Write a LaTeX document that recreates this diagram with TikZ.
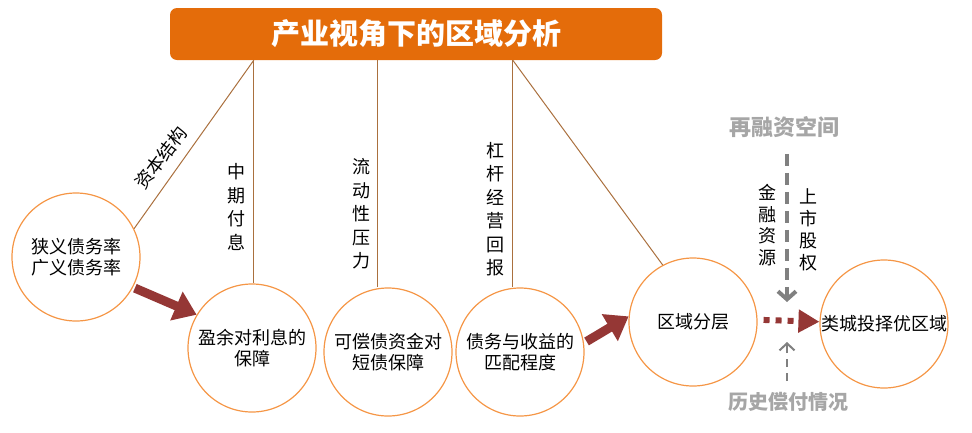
\documentclass[tikz,border=0pt]{standalone}
\usepackage{fontspec}
\newfontfamily\cjk{Noto Sans CJK SC}
\usetikzlibrary{arrows.meta}
\definecolor{barorange}{RGB}{228,108,10}
\definecolor{ringorange}{RGB}{245,150,70}
\definecolor{linkbrown}{RGB}{170,112,62}
\definecolor{arrowred}{RGB}{149,55,53}
\definecolor{flowgrey}{RGB}{128,128,128}
\definecolor{labelgrey}{RGB}{166,166,166}
\tikzset{
  ring/.style={circle, draw=ringorange, line width=1.2pt, minimum size=128pt,
    inner sep=0pt, align=center, font=\cjk\fontsize{18}{21}\selectfont},
  link/.style={draw=linkbrown, line width=1pt},
  vlabel/.style={align=center, inner sep=0pt, font=\cjk\fontsize{18}{23.5}\selectfont},
  bigarrow/.style={draw=arrowred, line width=9pt, -{Triangle[length=22pt,width=30pt]}},
  greylabel/.style={text=labelgrey, inner sep=0pt}
}
\begin{document}
\begin{tikzpicture}[x=1pt,y=-1pt]
    \useasboundingbox (0,0) rectangle (972,432);
    % title bar
    \node[fill=barorange, rounded corners=7pt, minimum width=492pt, minimum height=52pt,
      text=white, font=\cjk\bfseries\fontsize{29}{29}\selectfont] (title) at (416,34) {产业视角下的区域分析};
    \coordinate (t1) at ([xshift=84pt]title.south west);
    \coordinate (t2) at ([xshift=208pt]title.south west);
    \coordinate (t3) at ([xshift=343pt]title.south west);
    % circles
    \node[ring] (c1) at (76,257) {狭义债务率\\广义债务率};
    \node[ring] (c2) at (252,348) {盈余对利息的\\保障};
    \node[ring] (c3) at (388,352) {可偿债资金对\\短债保障};
    \node[ring] (c4) at (520,352) {债务与收益的\\匹配程度};
    \node[ring] (c5) at (693,322) {区域分层};
    \node[ring] (c6) at (884,324) {类城投择优区域};
    % links from the title
    \draw[link] (t1) -- (c1.26);
    \draw[link] (t1) -- (t1 |- c2.north);
    \draw[link] (t2) -- (t2 |- c3.north);
    \draw[link] (t3) -- (t3 |- c4.north);
    \draw[link] (t3) -- (c5.118);
    \node[rotate=53, inner sep=0pt, font=\cjk\fontsize{18}{18}\selectfont] (capital) at (161,158) {资本结构};
    \node[vlabel] (interest) at (236,207) {中\\期\\付\\息};
    \node[vlabel] (liquid) at (361,214) {流\\动\\性\\压\\力};
    \node[vlabel] (lever) at (495,209) {杠\\杆\\经\\营\\回\\报};
    % red arrows
    \draw[bigarrow, shorten <=2pt] (c1.-28) -- (c2.149);
    \draw[bigarrow, shorten <=3pt] (c4.8) -- (c5.175);
    \draw[arrowred, line width=6pt, dash pattern=on 6pt off 6pt, shorten <=6pt,
      -{Triangle[length=21pt,width=22pt]}] (c5.2) -- (c6.178);
    % grey flows
    \node[greylabel, font=\cjk\bfseries\fontsize{22}{22}\selectfont] (refi) at (784,127) {再融资空间};
    \node[greylabel, font=\cjk\bfseries\fontsize{20}{20}\selectfont] (hist) at (788,402) {历史偿付情况};
    \coordinate (dtip) at (787,302);
    \coordinate (utip) at (787,342);
    \draw[flowgrey, line width=4pt, dash pattern=on 12pt off 7pt, shorten <=16pt,
      -{Straight Barb[length=8pt,width=18pt]}] (refi.south -| dtip) -- (dtip);
    \draw[flowgrey, line width=2pt, dash pattern=on 8pt off 6pt, shorten <=11pt,
      -{Straight Barb[length=7pt,width=15pt]}] (hist.north -| utip) -- (utip);
    \node[vlabel, font=\cjk\fontsize{18}{21.7}\selectfont] (finance) at (767,225) {金\\融\\资\\源};
    \node[vlabel, font=\cjk\fontsize{18}{22}\selectfont] (equity) at (808,230) {上\\市\\股\\权};
\end{tikzpicture}
\end{document}
